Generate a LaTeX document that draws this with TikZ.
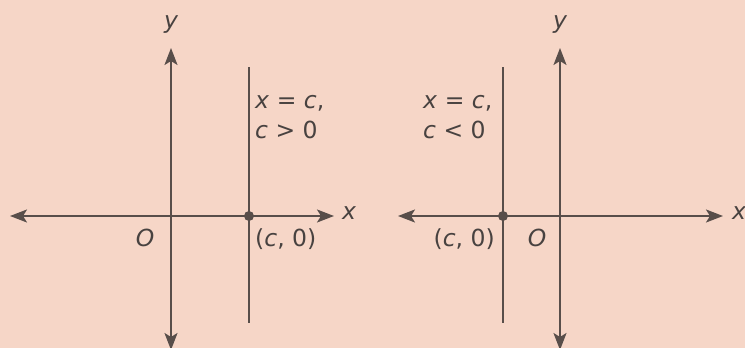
\documentclass[tikz,border=0pt]{standalone}
\usepackage{fontspec}
\setmainfont{DejaVu Sans}
\usetikzlibrary{arrows.meta,positioning}
\definecolor{bgpeach}{RGB}{246,214,199}
\definecolor{axisgray}{RGB}{88,78,74}
\definecolor{textgray}{RGB}{72,66,64}
\tikzset{
  axis/.style={draw=axisgray,line width=2pt,{Stealth[length=17pt,width=13pt,inset=4pt]}-{Stealth[length=17pt,width=13pt,inset=4pt]}},
  vline/.style={draw=axisgray,line width=2pt},
  lbl/.style={text=textgray,inner sep=1pt,font=\fontsize{23.5}{30}\selectfont},
  cdot/.style={circle,fill=axisgray,inner sep=0pt,minimum size=10pt}}
\begin{document}
\begin{tikzpicture}[x=1pt,y=-1pt]
\fill[bgpeach](0,0)rectangle(745,348);
\useasboundingbox(0,0)rectangle(745,348);
% c > 0
\coordinate(aW)at(10,216);\coordinate(aE)at(334,216);
\coordinate(aN)at(171,48);\coordinate(aS)at(171,350);
\coordinate(aT)at(249,67);\coordinate(aB)at(249,323);
\draw[axis](aW)--(aE);\draw[axis](aS)--(aN);
\draw[vline](aT)--(aB);
\node[cdot](aC)at(249,216){};
\node[lbl](ay)at(171,25){\itshape y};
\node[lbl,anchor=west](ax)at(341,213){\itshape x};
\node[lbl](aO)at(145,238){\itshape O};
\node[lbl,anchor=west](acl)at(254,239){(\textit{c}, 0)};
\node[lbl,anchor=north west,align=left](aeq)at(254,94){\textit{x} = \textit{c},\\\textit{c} > 0};
% c < 0
\coordinate(bW)at(398,216);\coordinate(bE)at(723,216);
\coordinate(bN)at(560,48);\coordinate(bS)at(560,350);
\coordinate(bT)at(503,67);\coordinate(bB)at(503,323);
\draw[axis](bW)--(bE);\draw[axis](bS)--(bN);
\draw[vline](bT)--(bB);
\node[cdot](bC)at(503,216){};
\node[lbl](by)at(560,25){\itshape y};
\node[lbl,anchor=west](bx)at(731,213){\itshape x};
\node[lbl](bO)at(537,238){\itshape O};
\node[lbl,anchor=east](bcl)at(496,239){(\textit{c}, 0)};
\node[lbl,anchor=north west,align=left](beq)at(422,94){\textit{x} = \textit{c},\\\textit{c} < 0};
\end{tikzpicture}
\end{document}
